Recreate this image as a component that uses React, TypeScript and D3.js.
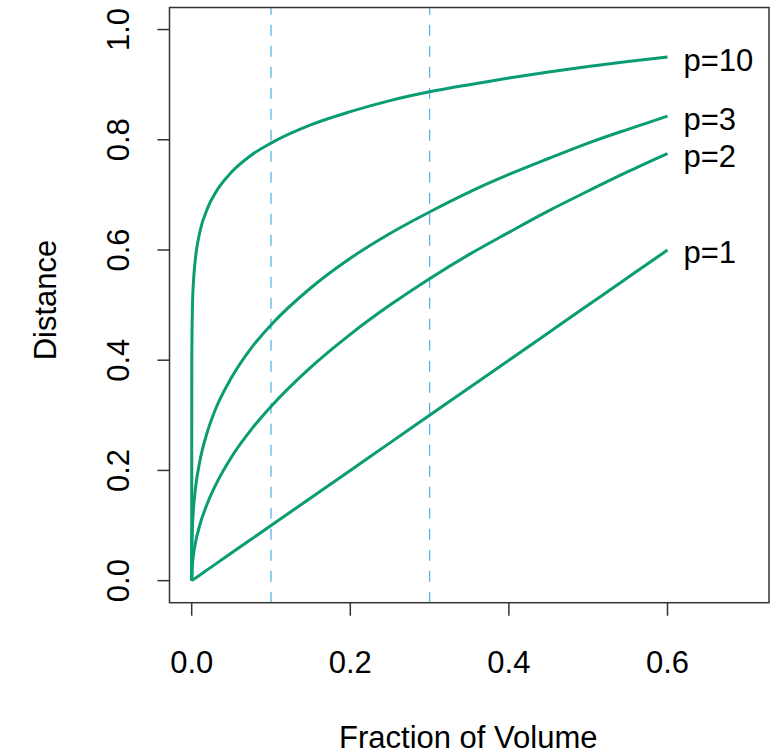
import React from "react";
import * as d3 from "d3";

const fractions = [0, 0.0001, 0.001, 0.002, 0.003, 0.005, 0.01, 0.02, 0.03, 0.05, 0.075, 0.1, 0.15, 0.2, 0.25, 0.3, 0.35, 0.4, 0.45, 0.5, 0.55, 0.6];
const distP1 = [0, 0.0001, 0.001, 0.002, 0.003, 0.005, 0.01, 0.02, 0.03, 0.05, 0.075, 0.1, 0.15, 0.2, 0.25, 0.3, 0.35, 0.4, 0.45, 0.5, 0.55, 0.6];
const distP2 = [0, 0.01, 0.0316, 0.0447, 0.0548, 0.0707, 0.1, 0.141, 0.173, 0.224, 0.274, 0.316, 0.387, 0.447, 0.5, 0.548, 0.592, 0.632, 0.671, 0.707, 0.742, 0.775];
const distP3 = [0, 0.0464, 0.1, 0.126, 0.144, 0.171, 0.215, 0.271, 0.311, 0.368, 0.422, 0.464, 0.531, 0.585, 0.63, 0.669, 0.705, 0.737, 0.766, 0.794, 0.819, 0.843];
const distP10 = [0, 0.398, 0.501, 0.537, 0.559, 0.589, 0.631, 0.676, 0.704, 0.741, 0.772, 0.794, 0.827, 0.851, 0.871, 0.887, 0.9, 0.912, 0.923, 0.933, 0.942, 0.95];
const seriesLabels = ["p=1", "p=2", "p=3", "p=10"];
const seriesValues = [distP1, distP2, distP3, distP10];
const vLines = [0.1, 0.3];
const xTicks = [0, 0.2, 0.4, 0.6];
const yTicks = [0, 0.2, 0.4, 0.6, 0.8, 1.0];

export default function App() {
  const W = 784, H = 753;
  const left = 169.5, right = 769, top = 7.5, bottom = 602.7;
  const x = d3.scaleLinear().domain([-0.028, 0.728]).range([left, right]);
  const y = d3.scaleLinear().domain([-0.04, 1.04]).range([bottom, top]);
  const line = d3.line<number>().x((_, i) => x(fractions[i])).y((d) => y(d)).curve(d3.curveMonotoneX);
  const font = "'Liberation Sans', Arial, sans-serif";
  const green = "#0a9c72";
  const fs = 31;
  return (
    <svg width={W} height={H} style={{ position: "absolute", left: 0, top: 0, background: "#fff" }} fontFamily={font}>
      {vLines.map((v) => (
        <line key={v} x1={x(v)} x2={x(v)} y1={bottom} y2={top} stroke="#5ab4e6" strokeWidth={1.3} strokeDasharray="11,10" />
      ))}
      {seriesValues.map((vals, i) => (
        <path key={i} d={line(vals) || ""} fill="none" stroke={green} strokeWidth={3} />
      ))}
      {seriesValues.map((vals, i) => (
        <text key={"l" + i} x={x(0.6) + 16} y={y(vals[vals.length - 1]) + 13.5} fontSize={fs} fill="#000">
          {seriesLabels[i]}
        </text>
      ))}
      <rect x={left} y={top} width={right - left} height={bottom - top} fill="none" stroke="#333" strokeWidth={1.5} />
      {xTicks.map((t) => (
        <g key={t}>
          <line x1={x(t)} x2={x(t)} y1={bottom} y2={bottom + 13} stroke="#333" strokeWidth={1.5} />
          <text x={x(t)} y={673} textAnchor="middle" fontSize={fs}>{t.toFixed(1)}</text>
        </g>
      ))}
      {yTicks.map((t) => (
        <g key={t}>
          <line x1={left - 12} x2={left} y1={y(t)} y2={y(t)} stroke="#333" strokeWidth={1.5} />
          <text transform={`translate(128.5,${y(t)}) rotate(-90)`} textAnchor="middle" fontSize={fs}>{t.toFixed(1)}</text>
        </g>
      ))}
      <text x={(left + right) / 2 - 1} y={748.3} textAnchor="middle" fontSize={fs}>Fraction of Volume</text>
      <text transform={`translate(56,300) rotate(-90)`} textAnchor="middle" fontSize={fs}>Distance</text>
    </svg>
  );
}
